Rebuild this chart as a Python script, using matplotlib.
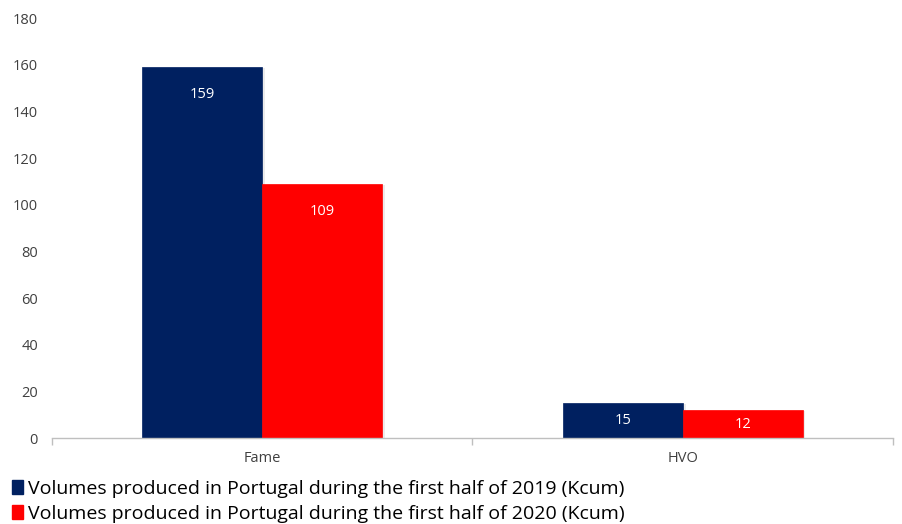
import matplotlib
matplotlib.use("Agg")
import matplotlib.pyplot as plt
import numpy as np
from matplotlib.patches import Patch
import matplotlib.patheffects as pe

categories = ["Fame", "HVO"]
series_names = [
    "Volumes produced in Portugal during the first half of 2019 (Kcum)",
    "Volumes produced in Portugal during the first half of 2020 (Kcum)",
]
values_2019 = [159, 15]
values_2020 = [109, 12]
colors = ["#002060", "#FF0000"]
yticks = [0, 20, 40, 60, 80, 100, 120, 140, 160, 180]

plt.rcParams['font.family'] = ['Open Sans', 'DejaVu Sans']

fig = plt.figure(figsize=(9.03, 5.24), dpi=100)
ax = fig.add_axes([52/903, 86/524, 841/903, 420/524])

x = np.arange(len(categories))
w = 0.285
shadow = [pe.SimplePatchShadow(offset=(2, -1), shadow_rgbFace='#d9d9d9', alpha=0.5), pe.Normal()]
for i, (vals, col) in enumerate(zip([values_2019, values_2020], colors)):
    bars = ax.bar(x + (i - 0.5) * w, vals, width=w, color=col, edgecolor=col,
                  linewidth=0.5, path_effects=shadow, zorder=2)
    for b, v in zip(bars, vals):
        cx = b.get_x() + b.get_width() / 2
        if v > 30:
            ax.annotate(str(v), (cx, v), xytext=(0, -20), textcoords='offset points',
                        ha='center', va='center', color='white', fontsize=10.5, zorder=3)
        else:
            ax.text(cx, v / 2, str(v), ha='center', va='center', color='white',
                    fontsize=10.5, zorder=3)

ax.set_xlim(-0.5, 1.5)
ax.set_ylim(0, 180)
ax.set_yticks(yticks)
ax.set_yticklabels([str(t) for t in yticks])
ax.set_xticks(x)
ax.set_xticklabels(categories)
ax.set_xticks([-0.5, 0.5, 1.5], minor=True)
ax.tick_params(axis='x', which='major', length=0, pad=9, labelsize=10.5, labelcolor='#404040')
ax.tick_params(axis='x', which='minor', length=5, color='#bfbfbf', width=1)
ax.tick_params(axis='y', length=0, pad=10, labelsize=10.5, labelcolor='#404040')
for s in ['top', 'right', 'left']:
    ax.spines[s].set_visible(False)
ax.spines['bottom'].set_color('#bfbfbf')
ax.spines['bottom'].set_linewidth(1)

handles = [Patch(facecolor=c, edgecolor=c) for c in colors]
fig.legend(handles, series_names, loc='lower left', bbox_to_anchor=(0.0, -0.02),
           frameon=False, fontsize=14, handlelength=0.6, handleheight=0.75,
           handletextpad=0.25, labelspacing=0.35, borderaxespad=0.2, labelcolor='#000000')

fig.savefig("out.png", dpi=100)
